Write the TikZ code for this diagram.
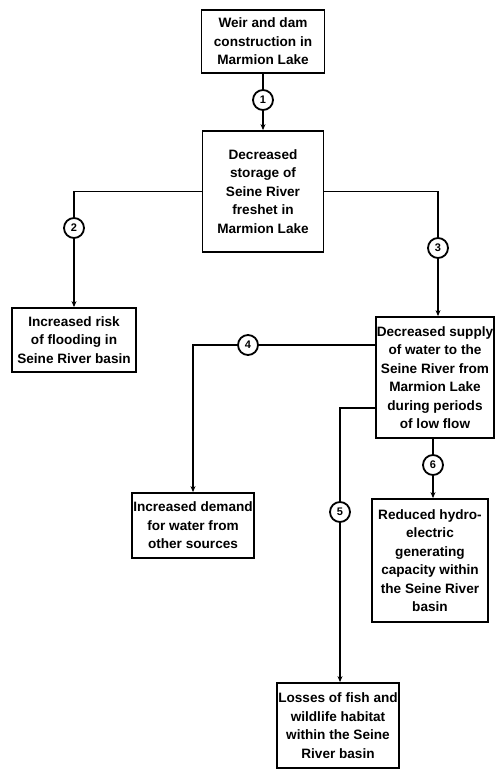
\documentclass[tikz,border=0pt]{standalone}
\usepackage{fontspec}
\setmainfont{Liberation Sans}
\usetikzlibrary{positioning, arrows.meta, calc}

\begin{document}
\begin{tikzpicture}[
    x=1pt, y=-1pt, % pixel-like coordinates, y going down
    line width=1.8pt,
    box/.style={draw, align=center, inner sep=1pt,
        font=\fontsize{13.6}{18.5}\selectfont\bfseries},
    num/.style={draw, circle, minimum size=20pt, inner sep=0pt,
        fill=white, font=\fontsize{11}{11}\selectfont\bfseries},
    >={Stealth[length=6pt,width=5pt]}
]
    \useasboundingbox (0,0) rectangle (496,771);

    % Place the boxes
    \node[box, minimum width=123, minimum height=63] (weir) at (263,41.5)
        {Weir and dam\\construction in\\Marmion Lake};
    \node[box, minimum width=121, minimum height=121] (storage) at (263,191.5)
        {Decreased\\storage of\\Seine River\\freshet in\\Marmion Lake};
    \node[box, minimum width=124, minimum height=64] (flood) at (74,340)
        {Increased risk\\of flooding in\\Seine River basin};
    \node[box, minimum width=116, minimum height=121] (supply) at (435,377.5)
        {Decreased supply\\of water to the\\Seine River from\\Marmion Lake\\during periods\\of low flow};
    \node[box, minimum width=122, minimum height=65] (demand) at (193,525.5)
        {Increased demand\\for water from\\other sources};
    \node[box, minimum width=116, minimum height=123] (hydro) at (430,560.5)
        {Reduced hydro-\\electric\\generating\\capacity within\\the Seine River\\basin};
    \node[box, minimum width=122, minimum height=85] (losses) at (338,725.5)
        {Losses of fish and\\wildlife habitat\\within the Seine\\River basin};

    % Place the numbered circles
    \node[num] (c1) at (263,100) {1};
    \node[num] (c2) at (74,228) {2};
    \node[num] (c3) at (438,248) {3};
    \node[num] (c4) at (248,345) {4};
    \node[num] (c5) at (340,512) {5};
    \node[num] (c6) at (433,465) {6};
    \coordinate (k5) at (340,408);

    % Draw the connectors
    \draw (weir) -- (c1);
    \draw [->] (c1) -- (storage);
    \draw (storage.west) -| (c2);
    \draw [->] (c2) -- (flood);
    \draw (storage.east) -| (c3);
    \draw [->] (c3) -- (c3 |- supply.north);
    \draw (c4 -| supply.west) -- (c4);
    \draw [->] (c4) -| (demand.north);
    \draw (k5 -| supply.west) -- (k5) -- (c5);
    \draw [->] (c5) -- (c5 |- losses.north);
    \draw (c6 |- supply.south) -- (c6);
    \draw [->] (c6) -- (c6 |- hydro.north);
\end{tikzpicture}
\end{document}
